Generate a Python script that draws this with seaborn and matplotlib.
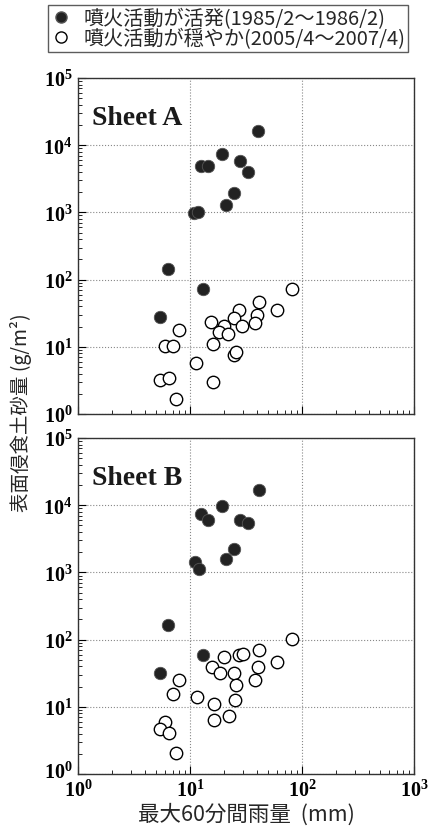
import numpy as np
import pandas as pd
import matplotlib
matplotlib.use("Agg")
import matplotlib.pyplot as plt
import matplotlib.transforms as mtransforms
from matplotlib.lines import Line2D
from matplotlib.ticker import LogLocator, NullFormatter
import seaborn as sns

# Sheet A, active period (filled)
a_active_x = [40.8, 19.5, 28.2, 33.1, 12.5, 14.6, 24.9, 20.9, 10.9, 11.9, 6.42, 13.0, 5.41]
a_active_y = [16400, 7430, 5900, 4000, 4920, 4920, 1950, 1290, 966, 1000, 144, 71.5, 27.7]
# Sheet A, calm period (open)
a_calm_x = [81.3, 41.3, 27.2, 60.4, 39.8, 24.5, 15.5, 37.7, 29.2, 20.0, 18.2, 21.8,
            7.96, 5.92, 7.03, 16.0, 24.5, 25.8, 11.3, 5.37, 6.47, 16.0, 7.48]
a_calm_y = [71.5, 46.5, 35.6, 35.6, 30.0, 26.8, 23.1, 22.5, 20.6, 20.1, 16.4, 15.6,
            17.5, 10.4, 10.4, 11.1, 7.6, 8.3, 5.83, 3.24, 3.43, 2.97, 1.67]
# Sheet B, active period
b_active_x = [41.3, 19.5, 12.6, 14.4, 28.2, 33.1, 24.9, 20.9, 11.0, 12.0, 6.42, 13.0, 5.41]
b_active_y = [17100, 9660, 7350, 5980, 5980, 5510, 2250, 1560, 1430, 1130, 167, 59, 31.8]
# Sheet B, calm period
b_calm_x = [81.3, 41.3, 27.2, 29.8, 20.0, 15.7, 40.7, 60.4, 18.6, 24.5, 7.96, 38.0,
            25.9, 7.03, 11.5, 25.1, 16.3, 6.0, 5.37, 6.47, 16.3, 22.1, 7.48]
b_calm_y = [102, 71, 59.7, 61, 54.5, 39.5, 39.5, 47, 31.5, 31.5, 25.3, 25,
            21.3, 15.5, 13.8, 12.6, 11.0, 5.98, 4.64, 4.14, 6.4, 7.35, 2.08]

sheets = ["Sheet A", "Sheet B"]
legend_labels = ["噴火活動が活発(1985/2～1986/2)", "噴火活動が穏やか(2005/4～2007/4)"]
xlabel = "最大60分間雨量  (mm)"
ylabel = "表面侵食土砂量 (g/m²)"

rows = []
for sheet, ax_, ay_, cx_, cy_ in [("Sheet A", a_active_x, a_active_y, a_calm_x, a_calm_y),
                                  ("Sheet B", b_active_x, b_active_y, b_calm_x, b_calm_y)]:
    for x, y in zip(ax_, ay_):
        rows.append((sheet, "active", x, y))
    for x, y in zip(cx_, cy_):
        rows.append((sheet, "calm", x, y))
df = pd.DataFrame(rows, columns=["sheet", "period", "rain", "erosion"])

sns.set_style("white")
plt.rcParams["font.family"] = ["Noto Sans CJK JP", "DejaVu Sans"]

fig = plt.figure(figsize=(4.3, 8.29), dpi=100)
ax_top = fig.add_axes([0.1814, 0.4994, 0.7814, 0.4053])
ax_bot = fig.add_axes([0.1814, 0.0651, 0.7814, 0.4053])

tick_labels = [r"$\mathregular{10^{%d}}$" % i for i in range(6)]
tick_font = dict(fontfamily="Liberation Serif", fontweight="bold", fontsize=14.5)

for ax, sheet in [(ax_top, "Sheet A"), (ax_bot, "Sheet B")]:
    sub = df[df.sheet == sheet]
    sns.scatterplot(data=sub[sub.period == "calm"], x="rain", y="erosion", ax=ax,
                    s=80, color="white", edgecolor="black", linewidth=1.0, zorder=3)
    sns.scatterplot(data=sub[sub.period == "active"], x="rain", y="erosion", ax=ax,
                    s=80, color="#222222", edgecolor="#555555", linewidth=0.6, zorder=4)
    ax.set_xscale("log")
    ax.set_yscale("log")
    ax.set_xlim(1, 1000)
    ax.set_ylim(1, 1e5)
    ax.set_xlabel("")
    ax.set_ylabel("")
    ax.set_yticks([10 ** i for i in range(6)], tick_labels, **tick_font)
    ax.set_xticks([10 ** i for i in range(4)], tick_labels[:4], **tick_font)
    ax.xaxis.set_minor_locator(LogLocator(base=10, subs=np.arange(2, 10), numticks=20))
    ax.yaxis.set_minor_locator(LogLocator(base=10, subs=np.arange(2, 10), numticks=20))
    ax.xaxis.set_minor_formatter(NullFormatter())
    ax.yaxis.set_minor_formatter(NullFormatter())
    ax.tick_params(which="major", direction="in", length=6, width=0.8, top=False, right=False,
                   left=True, bottom=True, pad=4, colors="black")
    ax.tick_params(which="minor", direction="in", length=3, width=0.7, top=False, right=False,
                   left=True, bottom=True)
    ax.grid(True, which="major", linestyle=":", color="#888888", linewidth=0.8)
    for sp in ax.spines.values():
        sp.set_color("#333333")
        sp.set_linewidth(1.0)
    ax.text(0.042, 0.863, sheet, transform=ax.transAxes, fontfamily="Liberation Serif",
            fontweight="bold", fontsize=20, color="#1a1a1a", zorder=5)

ax_top.tick_params(labelbottom=False)
# nudge the lowest y label of the bottom panel up a little so it clears the x "10^0"
lbl = ax_bot.get_yticklabels()[0]
lbl.set_transform(lbl.get_transform() + mtransforms.ScaledTranslation(0, 4 / 100, fig.dpi_scale_trans))
ax_bot.set_xlabel(xlabel, fontsize=15.5, labelpad=1)
fig.text(0.05, 0.502, ylabel, rotation=90, ha="center", va="center", fontsize=14)

handles = [Line2D([], [], marker="o", linestyle="none", markersize=8, markerfacecolor="#222222",
                  markeredgecolor="#555555"),
           Line2D([], [], marker="o", linestyle="none", markersize=8, markerfacecolor="white",
                  markeredgecolor="black")]
leg = fig.legend(handles, legend_labels, loc="upper center", bbox_to_anchor=(0.53, 0.993),
                 fontsize=14.5, frameon=True, fancybox=False, edgecolor="#333333",
                 handletextpad=0.6, borderpad=0.15, labelspacing=-0.05, handlelength=1.0,
                 borderaxespad=0)
leg.get_frame().set_linewidth(1.0)

fig.savefig("out.png", dpi=100)
